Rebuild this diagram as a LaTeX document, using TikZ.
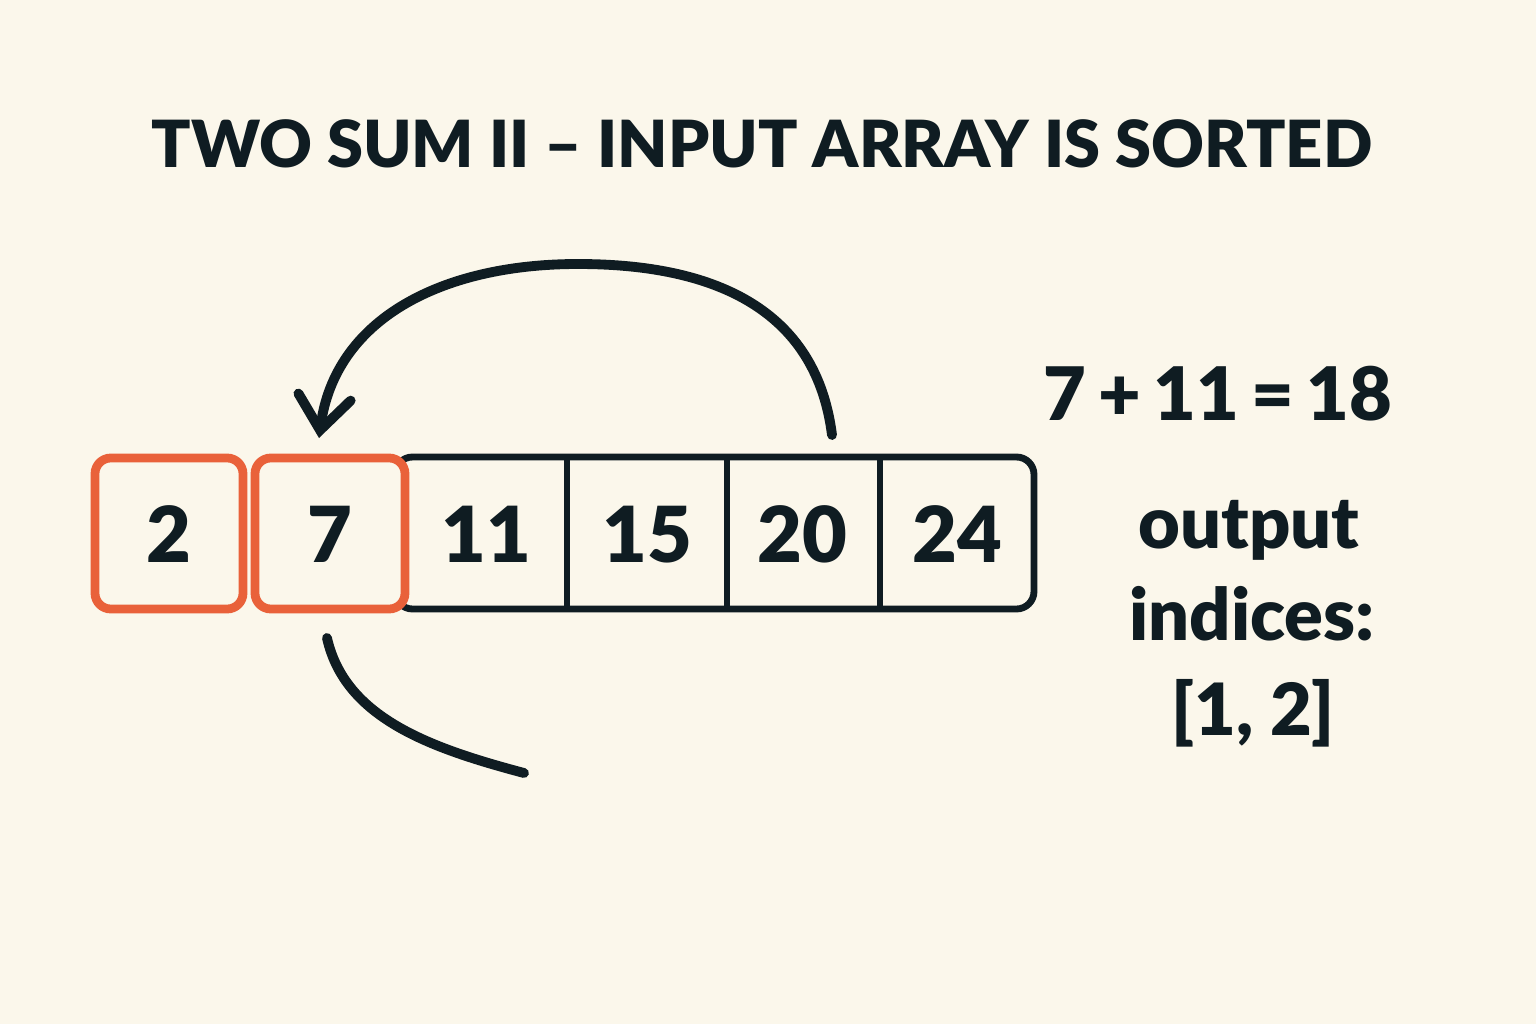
\documentclass[tikz,border=0pt]{standalone}
\usepackage{fontspec}
\setmainfont{Lato}[BoldFont={Lato Black}]
\usetikzlibrary{arrows.meta}
\definecolor{bg}{HTML}{FBF7EB}
\definecolor{ink}{HTML}{0F1C22}
\definecolor{hot}{HTML}{E9613A}
\tikzset{
  cellnum/.style={font=\fontsize{44}{50}\selectfont\bfseries, text=ink, anchor=base},
  sidetext/.style={font=\fontsize{41}{48}\selectfont\bfseries, text=ink, anchor=base},
  redbox/.style={draw=hot, line width=5pt, rounded corners=9pt, fill=bg},
  arrline/.style={draw=ink, line width=5.6pt, line cap=round},
}
\begin{document}
\begin{tikzpicture}[x=0.02cm,y=-0.02cm]
\useasboundingbox[fill=bg] (0,0) rectangle (1536,1024);
% title
\node[font=\fontsize{37}{44}\selectfont\bfseries, text=ink, anchor=base] (title) at (762,168) {TWO SUM II – INPUT ARRAY IS SORTED};
% array outline
\draw[ink, line width=3.9pt, rounded corners=10pt] (395,457) rectangle (1034,609);
\draw[ink, line width=3.9pt] (567,457) -- (567,609) (727,457) -- (727,609) (880,457) -- (880,609);
% highlighted cells
\draw[redbox] (95,458) rectangle (243,609);
\draw[redbox] (255,458) rectangle (405,609);
% numbers
\node[cellnum] (c1) at (169,562) {2};
\node[cellnum] (c2) at (330,562) {7};
\node[cellnum] (c3) at (486,562) {11};
\node[cellnum] (c4) at (647,562) {15};
\node[cellnum] (c5) at (802,562) {20};
\node[cellnum] (c6) at (957,562) {24};
% arrows
\coordinate (s1) at (832,435);
\coordinate (e1) at (319,438);
\draw[arrline, -{Straight Barb[length=19pt,width=30pt,line cap=round]}] (s1) .. controls (815,300) and (700,264) .. (578,264) .. controls (440,264) and (335,320) .. (e1);
\coordinate (s2) at (327,638);
\coordinate (e2) at (524,773);
\draw[arrline] (s2) .. controls (345,718) and (430,748) .. (e2);
% side texts
\node[sidetext, font=\fontsize{42}{48}\selectfont\bfseries] (sum) at (1218,420) {7\,+\,11\,=\,18};
\node[sidetext] (out) at (1249,548) {output};
\node[sidetext] (ind) at (1252,640) {indices:};
\node[sidetext] (res) at (1253,735) {[1, 2]};
\end{tikzpicture}
\end{document}
